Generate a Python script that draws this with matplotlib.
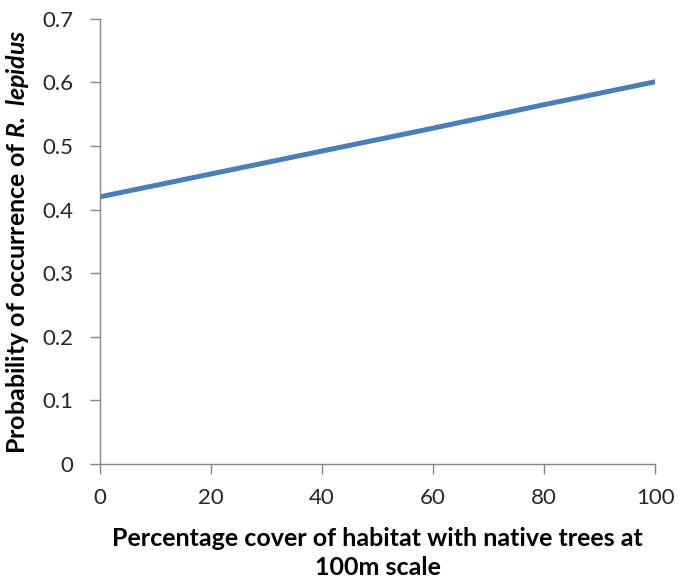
import matplotlib
matplotlib.use("Agg")
import matplotlib.pyplot as plt

# Predicted probability of occurrence vs. native tree cover
cover_pct = [0, 20, 40, 60, 80, 100]
prob_occurrence = [0.420, 0.456, 0.492, 0.528, 0.565, 0.601]

x_ticks = [0, 20, 40, 60, 80, 100]
y_ticks = [0, 0.1, 0.2, 0.3, 0.4, 0.5, 0.6, 0.7]

plt.rcParams['font.family'] = ['Lato', 'DejaVu Sans']
plt.rcParams['mathtext.fontset'] = 'custom'
plt.rcParams['mathtext.rm'] = 'Lato'
plt.rcParams['mathtext.bf'] = 'Lato:bold'
plt.rcParams['mathtext.it'] = 'Lato:italic'
plt.rcParams['mathtext.bfit'] = 'Lato:italic:bold'

fig = plt.figure(figsize=(6.79, 5.88), dpi=100)
ax = fig.add_axes([0.147, 0.211, 0.818, 0.757])

ax.plot(cover_pct, prob_occurrence, color='#4a7ebb', linewidth=3.6,
        solid_capstyle='round')

ax.set_xlim(0, 100)
ax.set_ylim(0, 0.7)
ax.set_xticks(x_ticks)
ax.set_yticks(y_ticks)
ax.set_xticklabels([str(v) for v in x_ticks])
ax.set_yticklabels(['0' if v == 0 else f'{v:.1f}' for v in y_ticks])

for side in ('top', 'right'):
    ax.spines[side].set_visible(False)
for side in ('left', 'bottom'):
    ax.spines[side].set_color('#868686')
    ax.spines[side].set_linewidth(1.0)

ax.tick_params(axis='both', direction='out', length=7, width=1.0,
               color='#868686', labelsize=16, labelcolor='#262626')
ax.tick_params(axis='x', pad=10)
ax.tick_params(axis='y', pad=12)

ax.set_xlabel('Percentage cover of habitat with native trees at\n100m scale',
              fontsize=18, fontweight='bold', labelpad=14, linespacing=1.3)
ax.set_ylabel('Probability of occurrence of $\\mathbfit{R.\\ lepidus}$',
              fontsize=18, fontweight='bold')
ax.yaxis.set_label_coords(-0.124, 0.5)

fig.savefig('out.png', dpi=100)
